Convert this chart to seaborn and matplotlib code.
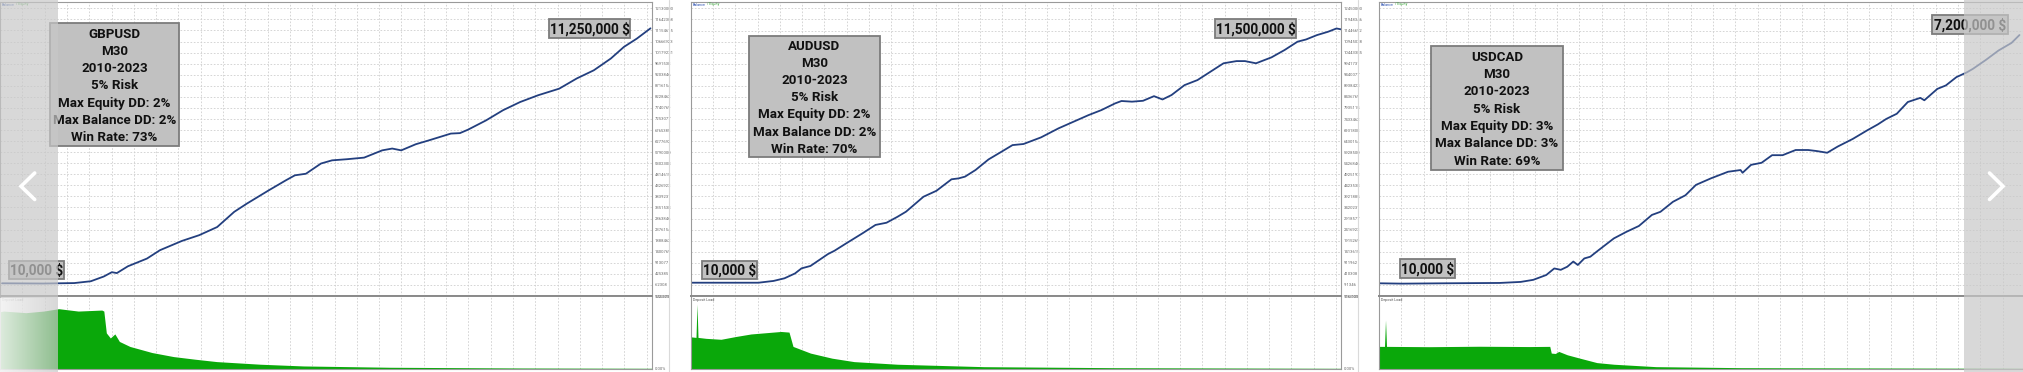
import numpy as np
import matplotlib
matplotlib.use("Agg")
import matplotlib.pyplot as plt
import seaborn as sns
from matplotlib.patches import Rectangle

# ---------------- data ----------------
pairs = ["GBPUSD", "AUDUSD", "USDCAD"]
timeframe = "M30"
period = "2010-2023"
risk = "5% Risk"
max_equity_dd = [2, 2, 3]
max_balance_dd = [2, 2, 3]
win_rate = [73, 70, 69]
start_label = "10,000 $"
final_labels = ["11,250,000 $", "11,500,000 $", "7,200,000 $"]

# balance curves: x in years, y in millions of $
p1_years = [2010.04, 2010.86, 2011.48, 2011.81, 2012.07, 2012.23, 2012.33, 2012.55, 2012.93, 2013.19,
            2013.63, 2013.97, 2014.33, 2014.67, 2014.92, 2015.36, 2015.70, 2015.88, 2016.10, 2016.40,
            2016.62, 2016.92, 2017.26, 2017.62, 2017.82, 2018.00, 2018.29, 2018.55, 2018.99, 2019.17,
            2019.33, 2019.69, 2020.03, 2020.37, 2020.73, 2021.15, 2021.50, 2021.84, 2022.18, 2022.44,
            2022.70, 2022.97]
p1_equity = [0.01, 0.00, 0.02, 0.10, 0.31, 0.50, 0.46, 0.76, 1.10, 1.47,
             1.88, 2.13, 2.49, 3.16, 3.52, 4.11, 4.55, 4.77, 4.84, 5.29,
             5.43, 5.48, 5.55, 5.87, 5.95, 5.87, 6.14, 6.31, 6.61, 6.63,
             6.78, 7.19, 7.64, 8.00, 8.30, 8.59, 9.04, 9.40, 9.92, 10.43,
             10.80, 11.25]

p2_years = [2010.00, 2011.35, 2011.65, 2011.87, 2012.08, 2012.21, 2012.39, 2012.74, 2012.87, 2013.08,
            2013.43, 2013.69, 2013.91, 2014.13, 2014.30, 2014.65, 2014.91, 2015.21, 2015.35, 2015.48,
            2015.69, 2015.95, 2016.21, 2016.43, 2016.65, 2017.00, 2017.35, 2017.61, 2017.95, 2018.21,
            2018.48, 2018.61, 2018.82, 2019.04, 2019.26, 2019.43, 2019.61, 2019.87, 2020.13, 2020.39,
            2020.65, 2020.91, 2021.08, 2021.30, 2021.61, 2021.87, 2022.13, 2022.30, 2022.52, 2022.74,
            2022.91, 2023.00]
p2_equity = [0.01, 0.01, 0.09, 0.21, 0.43, 0.66, 0.77, 1.31, 1.46, 1.76,
             2.25, 2.63, 2.73, 3.00, 3.23, 3.91, 4.18, 4.70, 4.74, 4.82,
             5.12, 5.60, 5.95, 6.25, 6.30, 6.60, 7.01, 7.27, 7.61, 7.84,
             8.14, 8.25, 8.22, 8.26, 8.47, 8.32, 8.52, 8.97, 9.20, 9.58,
             9.96, 10.06, 10.06, 9.96, 10.23, 10.56, 10.94, 11.04, 11.24, 11.39,
             11.54, 11.50]

p3_years = [2010.00, 2010.47, 2011.31, 2012.41, 2012.83, 2013.08, 2013.34, 2013.50, 2013.63, 2013.76,
            2013.88, 2013.97, 2014.10, 2014.22, 2014.35, 2014.69, 2014.94, 2015.19, 2015.45, 2015.62,
            2015.87, 2016.12, 2016.33, 2016.63, 2016.97, 2017.22, 2017.26, 2017.43, 2017.64, 2017.85,
            2018.06, 2018.32, 2018.57, 2018.74, 2018.95, 2019.16, 2019.46, 2019.75, 2019.96, 2020.13,
            2020.34, 2020.56, 2020.81, 2020.89, 2021.15, 2021.32, 2021.53, 2021.74, 2021.86, 2022.12,
            2022.37, 2022.63, 2022.79]
p3_equity = [0.01, 0.00, 0.01, 0.02, 0.05, 0.11, 0.25, 0.44, 0.40, 0.49,
             0.64, 0.54, 0.73, 0.78, 0.93, 1.31, 1.50, 1.67, 1.99, 2.08,
             2.37, 2.56, 2.86, 3.05, 3.24, 3.29, 3.21, 3.44, 3.50, 3.72,
             3.72, 3.87, 3.87, 3.84, 3.79, 3.97, 4.19, 4.44, 4.61, 4.77,
             4.92, 5.26, 5.38, 5.31, 5.64, 5.74, 5.98, 6.12, 6.22, 6.48,
             6.75, 6.97, 7.20]

# deposit load (%)
d1_years = [2010.00, 2010.07, 2010.52, 2010.87, 2011.17, 2011.56, 2012.03, 2012.07, 2012.12, 2012.20,
            2012.29, 2012.38, 2012.59, 2013.03, 2013.46, 2013.89, 2014.32, 2015.19, 2016.05, 2017.78,
            2020.38, 2023.00]
d1_load = [96.0, 97.1, 94.4, 97.1, 101.1, 97.1, 98.8, 97.1, 60.5, 52.0,
           58.8, 46.2, 37.8, 27.6, 20.8, 16.4, 12.4, 8.0, 5.1, 2.9,
           1.7, 1.2]

d2_years = [2010.00, 2010.10, 2010.12, 2010.14, 2010.30, 2010.60, 2010.90, 2011.20, 2011.50, 2011.80,
            2011.96, 2012.04, 2012.39, 2012.82, 2013.26, 2014.13, 2015.86, 2018.48, 2023.00]
d2_load = [51.4, 50.5, 103.7, 50.5, 49.0, 47.5, 52.0, 56.0, 58.0, 60.0,
           59.0, 36.1, 25.4, 17.3, 11.8, 7.6, 3.7, 2.1, 1.1]

d3_years = [2010.00, 2010.11, 2010.13, 2010.15, 2011.00, 2012.00, 2013.00, 2013.41, 2013.44, 2013.52,
            2013.59, 2013.76, 2014.01, 2014.35, 2014.69, 2015.53, 2017.22, 2022.79, 2023.00]
d3_load = [35.7, 35.7, 77.3, 35.7, 35.2, 35.9, 35.4, 35.7, 25.1, 24.5,
           27.7, 22.4, 17.1, 10.1, 7.5, 3.7, 2.1, 1.1, 1.0]

load_top_labels = ["122.37%", "116.70%", "115.20%"]

# ---------------- style ----------------
sns.set_style("white")
plt.rcParams['font.family'] = ['Roboto', 'DejaVu Sans']

W, H = 2023, 372
fig = plt.figure(figsize=(W / 100, H / 100), dpi=100)
fig.patch.set_facecolor('white')


def rect(x0, y0, x1, y1):
    return [x0 / W, 1 - y1 / H, (x1 - x0) / W, (y1 - y0) / H]


LINE = '#233f7f'
GREEN = '#0aa80a'
GRID = '#cfcfcf'
SPINE = '#9a9a9a'

layout = [
    dict(x0=0, x1=652, ylim=(-0.55, 12.41), ttop=12.13, lmax=122.37, labels=True),
    dict(x0=691, x1=1341, ylim=(-0.593, 12.74), ttop=12.45, lmax=116.70, labels=True),
    dict(x0=1379, x1=2030, ylim=(-0.358, 8.156), ttop=7.97, lmax=115.20, labels=False),
]
curves = [(p1_years, p1_equity), (p2_years, p2_equity), (p3_years, p3_equity)]
loads = [(d1_years, d1_load), (d2_years, d2_load), (d3_years, d3_load)]

vgrid = np.arange(2010.0, 2023.01, 0.4447)

for i, L in enumerate(layout):
    # ---- upper: balance
    ax = fig.add_axes(rect(L['x0'], 2, L['x1'], 296))
    yrs, eq = curves[i]
    sns.lineplot(x=yrs, y=eq, ax=ax, color=LINE, linewidth=1.3, estimator=None, sort=False)
    ax.set_xlim(2010, 2023)
    ax.set_ylim(*L['ylim'])
    yt = np.linspace(L['ylim'][0], L['ttop'], 27)
    ax.set_yticks(yt)
    ax.yaxis.tick_right()
    if L['labels']:
        ax.set_yticklabels([f"{int(round(v * 1e6))}" for v in yt])
    else:
        ax.set_yticklabels([])
    ax.set_xticks(vgrid)
    ax.tick_params(axis='x', length=0, labelbottom=False)
    ax.tick_params(axis='y', length=0, labelsize=3.0, colors='#6a6a6a', pad=2)
    ax.grid(True, color=GRID, linewidth=0.6, linestyle=(0, (2, 2)))
    ax.set_xlabel('')
    ax.set_ylabel('')
    for s in ax.spines.values():
        s.set_color(SPINE)
        s.set_linewidth(0.8)
    ax.spines['bottom'].set_color('#8a8a8a')
    ax.spines['bottom'].set_linewidth(1.4)

    # ---- lower: deposit load
    lx = fig.add_axes(rect(L['x0'], 296, L['x1'], 369))
    dy, dl = loads[i]
    lx.fill_between(dy, dl, 0, color=GREEN, linewidth=0)
    lx.set_xlim(2010, 2023)
    lx.set_ylim(0, L['lmax'])
    lx.set_xticks(vgrid)
    lx.set_yticks([0, L['lmax']])
    lx.yaxis.tick_right()
    if L['labels']:
        lx.set_yticklabels(["0.00%", load_top_labels[i]])
    else:
        lx.set_yticklabels([])
    lx.tick_params(axis='x', length=0, labelbottom=False)
    lx.tick_params(axis='y', length=0, labelsize=3.0, colors='#6a6a6a', pad=2)
    lx.grid(True, axis='x', color=GRID, linewidth=0.6, linestyle=(0, (2, 2)))
    for s in lx.spines.values():
        s.set_color(SPINE)
        s.set_linewidth(0.8)
    lx.spines['top'].set_color('#8a8a8a')
    lx.spines['top'].set_linewidth(1.4)

# ---------------- annotations layer (pixel coordinates) ----------------
ann = fig.add_axes([0, 0, 1, 1], zorder=5)
ann.set_xlim(0, W)
ann.set_ylim(H, 0)
ann.axis('off')
ann.patch.set_alpha(0)

# widget borders
for xb in (669, 1358):
    ann.plot([xb, xb], [0, H], color='#dadada', lw=0.8, zorder=1)

# tiny legends
for xl in (2, 693, 1381):
    ann.text(xl, 4.5, "Balance", fontsize=2.6, color='#2a4fb0', va='center', ha='left', zorder=2)
    ann.text(xl + 14, 4.5, "/ Equity", fontsize=2.6, color='#2ca02c', va='center', ha='left', zorder=2)
    ann.text(xl, 300.5, "Deposit Load", fontsize=2.6, color='#555555', va='center', ha='left', zorder=2)

BOX_FC = '#c1c1c1'
BOX_EC = '#7c7c7c'

info_boxes = [(50, 23, 179, 146, 34.2, 17.2), (749, 36, 880, 157, 46.0, 17.2), (1431, 46, 1563, 170, 57.3, 17.3)]
final_boxes = [(549, 19, 630, 38), (1215, 19, 1296, 38), (1932, 15, 2008, 34)]
start_boxes = [(9.5, 261, 64, 279), (702, 261, 757, 279), (1400, 259, 1455, 278)]

for i in range(3):
    x0, y0, x1, y1, ly, step = info_boxes[i]
    ann.add_patch(Rectangle((x0, y0), x1 - x0, y1 - y0, facecolor=BOX_FC, edgecolor=BOX_EC, lw=1.3, zorder=3))
    lines = [pairs[i], timeframe, period, risk,
             f"Max Equity DD: {max_equity_dd[i]}%",
             f"Max Balance DD: {max_balance_dd[i]}%",
             f"Win Rate: {win_rate[i]}%"]
    for k, t in enumerate(lines):
        ann.text((x0 + x1) / 2, ly + k * step, t, fontsize=9.6, fontweight='bold', color='#111111',
                 ha='center', va='center', zorder=4)
    for (bx0, by0, bx1, by1), t in ((final_boxes[i], final_labels[i]), (start_boxes[i], start_label)):
        ann.add_patch(Rectangle((bx0, by0), bx1 - bx0, by1 - by0, facecolor=BOX_FC, edgecolor=BOX_EC,
                                lw=1.3, zorder=3))
        ann.text((bx0 + bx1) / 2, (by0 + by1) / 2 + 0.5, t, fontsize=9.8, fontweight='bold',
                 color='#111111', ha='center', va='center', zorder=4)

# carousel overlays
OV = (200 / 255, 200 / 255, 200 / 255)
ann.add_patch(Rectangle((0, 0), 58, H, facecolor=OV, edgecolor='none', alpha=0.7, zorder=10))
ann.add_patch(Rectangle((1964, 0), W - 1964, H, facecolor=OV, edgecolor='none', alpha=0.7, zorder=10))
grad = np.ones((1, 58, 4))
grad[0, :, 3] = np.linspace(0.7, 0.0, 58)
ann.imshow(grad, extent=(0, 58, 372, 298), aspect='auto', zorder=11, interpolation='bilinear')
ann.set_xlim(0, W)
ann.set_ylim(H, 0)

# chevrons
ann.plot([34.7, 21.0, 34.7], [173, 186.3, 199.5], color='white', lw=2.6,
         solid_capstyle='round', solid_joinstyle='miter', zorder=12)
ann.plot([1989.5, 2003.0, 1989.5], [173, 186.3, 199.5], color='white', lw=2.6,
         solid_capstyle='round', solid_joinstyle='miter', zorder=12)

fig.savefig("out.png", dpi=100, facecolor='white')
